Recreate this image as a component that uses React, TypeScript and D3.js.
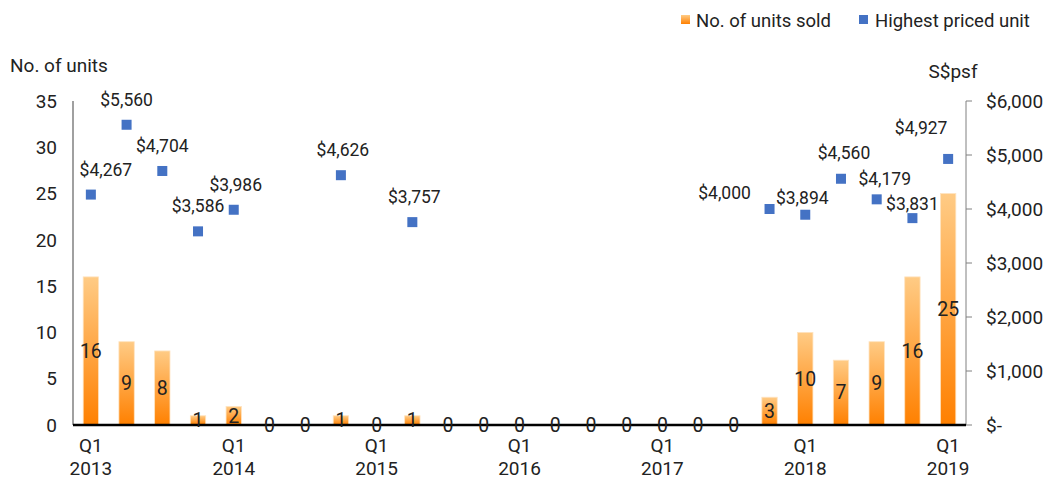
import React from "react";
import * as d3 from "d3";

const quarters = [
  "Q1 2013", "Q2 2013", "Q3 2013", "Q4 2013",
  "Q1 2014", "Q2 2014", "Q3 2014", "Q4 2014",
  "Q1 2015", "Q2 2015", "Q3 2015", "Q4 2015",
  "Q1 2016", "Q2 2016", "Q3 2016", "Q4 2016",
  "Q1 2017", "Q2 2017", "Q3 2017", "Q4 2017",
  "Q1 2018", "Q2 2018", "Q3 2018", "Q4 2018",
  "Q1 2019",
];
const unitsSold = [16, 9, 8, 1, 2, 0, 0, 1, 0, 1, 0, 0, 0, 0, 0, 0, 0, 0, 0, 3, 10, 7, 9, 16, 25];
const highestPrice: (number | null)[] = [
  4267, 5560, 4704, 3586, 3986, null, null, 4626, null, 3757, null, null, null,
  null, null, null, null, null, null, 4000, 3894, 4560, 4179, 3831, 4927,
];
const leftTicks = [0, 5, 10, 15, 20, 25, 30, 35];
const rightTicks = [0, 1000, 2000, 3000, 4000, 5000, 6000];

// label nudges (styling) for price labels: [dx, dy] relative to point
const priceLabelNudge: Record<number, [number, number]> = {
  0: [15, -25],
  4: [2, -25],
  7: [2, -25],
  9: [2, -25],
  19: [-45, -16],
  20: [-3, -17],
  21: [3, -26],
  22: [8, -20],
  23: [0, -14],
  24: [-27, -31],
};

const W = 1051, H = 479;
const left = 73, right = 966, top = 101, bottom = 425;
const FONT = "Roboto, 'Noto Sans', sans-serif";

export default function App() {
  const x = d3.scaleBand<number>().domain(quarters.map((_, i) => i)).range([left, right])
    .paddingInner(0.57).paddingOuter(0.285);
  const yL = d3.scaleLinear().domain([0, 35]).range([bottom, top]);
  const yR = d3.scaleLinear().domain([0, 6000]).range([bottom, top]);
  const cx = (i: number) => (x(i) as number) + x.bandwidth() / 2;
  const fmtR = (v: number) => (v === 0 ? "$-" : d3.format("$,")(v));
  const fmtP = d3.format("$,");

  return (
    <svg width={W} height={H} style={{ position: "absolute", left: 0, top: 0, background: "#fff" }} fontFamily={FONT}>
      <defs>
        <linearGradient id="barGrad" x1="0" y1="0" x2="0" y2="1">
          <stop offset="0%" stopColor="#FFCB85" />
          <stop offset="100%" stopColor="#FF8000" />
        </linearGradient>
      </defs>

      {/* Legend */}
      <rect x={681} y={15} width={9} height={9} fill="url(#barGrad)" />
      <text x={696} y={27} fontSize={18.5} fill="#222">No. of units sold</text>
      <rect x={859} y={15} width={9} height={9} fill="#4472C4" />
      <text x={875} y={27} fontSize={18.5} fill="#222">Highest priced unit</text>

      {/* Axis titles */}
      <text x={10} y={72} fontSize={19} fill="#222">No. of units</text>
      <text x={953} y={78} fontSize={19} fill="#222" textAnchor="middle">S$psf</text>

      {/* Left axis */}
      <line x1={left} x2={left} y1={top} y2={bottom} stroke="#808080" strokeWidth={1.5} />
      {leftTicks.map((t) => (
        <text key={t} x={57} y={yL(t)} dy="0.35em" fontSize={19} fill="#222" textAnchor="end">{t}</text>
      ))}

      {/* Right axis */}
      <line x1={right} x2={right} y1={top} y2={bottom} stroke="#808080" strokeWidth={1} />
      {rightTicks.map((t) => (
        <g key={t}>
          <line x1={right} x2={right + 6} y1={yR(t)} y2={yR(t)} stroke="#808080" strokeWidth={1} />
          <text x={986} y={yR(t)} dy="0.35em" fontSize={19} fill="#222">{fmtR(t)}</text>
        </g>
      ))}

      {/* Bars */}
      {unitsSold.map((v, i) =>
        v > 0 ? (
          <rect key={i} x={x(i)} y={yL(v)} width={x.bandwidth()} height={bottom - yL(v)}
            fill="url(#barGrad)" stroke="#FFE3BF" strokeWidth={0.8} />
        ) : null
      )}

      {/* X axis line */}
      <line x1={left} x2={right} y1={bottom} y2={bottom} stroke="#000" strokeWidth={2.5} />

      {/* Bar labels */}
      {unitsSold.map((v, i) => (
        <text key={i} x={cx(i)} y={(yL(v) + bottom) / 2} dy="0.35em" fontSize={19.5} fill="#222" textAnchor="middle">{v}</text>
      ))}

      {/* X labels */}
      {quarters.map((q, i) => {
        if (!q.startsWith("Q1")) return null;
        const [a, b] = q.split(" ");
        return (
          <g key={i}>
            <text x={cx(i)} y={452} fontSize={19} fill="#222" textAnchor="middle">{a}</text>
            <text x={cx(i)} y={475} fontSize={19} fill="#222" textAnchor="middle">{b}</text>
          </g>
        );
      })}

      {/* Scatter */}
      {highestPrice.map((p, i) => {
        if (p == null) return null;
        const px = cx(i), py = yR(p);
        const [dx, dy] = priceLabelNudge[i] ?? [0, -25];
        return (
          <g key={i}>
            <rect x={px - 5} y={py - 5} width={10} height={10} fill="#4472C4" />
            <text x={px + dx} y={py + dy} dy="0.35em" fontSize={17.5} fill="#222" textAnchor="middle">{fmtP(p)}</text>
          </g>
        );
      })}
    </svg>
  );
}
